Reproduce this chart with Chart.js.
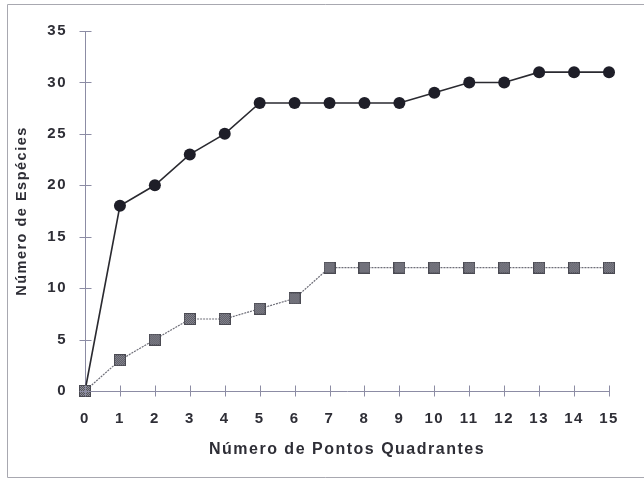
<!DOCTYPE html>
<html>
<head>
<meta charset="utf-8">
<script src="https://cdn.jsdelivr.net/npm/chart.js@4/dist/chart.umd.min.js"></script>
<style>
  html, body { margin: 0; padding: 0; background: #fff; }
  #wrap { width: 644px; height: 479px; position: relative; }
</style>
</head>
<body>
<div id="wrap"><canvas id="c" width="644" height="479"></canvas></div>
<script>
// Pontos quadrantes amostrados (eixo X)
const pontos = [0, 1, 2, 3, 4, 5, 6, 7, 8, 9, 10, 11, 12, 13, 14, 15];
// Número acumulado de espécies por série
const especiesA = [0, 18, 20, 23, 25, 28, 28, 28, 28, 28, 29, 30, 30, 31, 31, 31];
const especiesB = [0, 3, 5, 7, 7, 8, 9, 12, 12, 12, 12, 12, 12, 12, 12, 12];

const axisColor = '#8c8ca4';
const textColor = '#2e2e36';
const fontFamily = "'Liberation Sans', Arial, sans-serif";

// Square marker with a fine checkered texture
function makeSquare(size) {
  const c = document.createElement('canvas');
  c.width = size; c.height = size;
  const g = c.getContext('2d');
  g.fillStyle = '#55555e';
  g.fillRect(0, 0, size, size);
  g.fillStyle = '#8e8e98';
  for (let y = 0; y < size; y++) {
    for (let x = 0; x < size; x++) {
      if ((x + y) % 2 === 0) g.fillRect(x, y, 1, 1);
    }
  }
  g.strokeStyle = '#4a4a52';
  g.lineWidth = 1;
  g.strokeRect(0.5, 0.5, size - 1, size - 1);
  return c;
}
const squareImg = makeSquare(12);

// Frame and crossing tick marks
const decor = {
  id: 'decor',
  beforeDraw(chart) {
    chart.ctx.letterSpacing = '1.5px';
  },
  afterDraw(chart) {
    const ctx = chart.ctx;
    const xs = chart.scales.x, ys = chart.scales.y;
    ctx.save();
    ctx.letterSpacing = '0px';
    ctx.strokeStyle = axisColor;
    ctx.lineWidth = 1;
    ctx.beginPath();
    const ax = Math.round(xs.left) + 0.5;
    const ay = Math.round(ys.bottom) + 0.5;
    xs.ticks.forEach((t, i) => {
      const px = Math.round(xs.getPixelForTick(i)) + 0.5;
      ctx.moveTo(px, ay - 6); ctx.lineTo(px, ay + 5);
    });
    ys.ticks.forEach((t, i) => {
      const py = Math.round(ys.getPixelForTick(i)) + 0.5;
      ctx.moveTo(ax - 6, py); ctx.lineTo(ax + 6, py);
    });
    ctx.stroke();
    // outer frame (left, top, bottom)
    ctx.strokeStyle = '#a8a8b0';
    ctx.beginPath();
    ctx.moveTo(644, 4.5); ctx.lineTo(7.5, 4.5); ctx.lineTo(7.5, 477.5); ctx.lineTo(644, 477.5);
    ctx.stroke();
    ctx.restore();
  }
};

new Chart(document.getElementById('c'), {
  type: 'line',
  data: {
    datasets: [
      {
        label: 'A',
        order: 1,
        data: pontos.map((x, i) => ({ x, y: especiesA[i] })),
        borderColor: '#2a2a30',
        borderWidth: 1.6,
        pointStyle: 'circle',
        pointRadius: 6,
        pointBackgroundColor: '#1e1e28',
        pointBorderColor: '#1e1e28',
        pointBorderWidth: 0,
        tension: 0
      },
      {
        label: 'B',
        order: 0,
        data: pontos.map((x, i) => ({ x, y: especiesB[i] })),
        borderColor: '#6e6e78',
        borderWidth: 1.2,
        borderDash: [2, 1],
        pointStyle: squareImg,
        pointRadius: 6,
        tension: 0
      }
    ]
  },
  options: {
    responsive: false,
    animation: false,
    devicePixelRatio: 1,
    clip: false,
    layout: { padding: { left: 8, right: 35, top: 31, bottom: 4 } },
    plugins: { legend: { display: false }, tooltip: { enabled: false } },
    scales: {
      x: {
        type: 'linear',
        min: 0, max: 15,
        afterFit(s) { s.height = 479 - 391 - 4; },
        border: { display: true, color: axisColor, width: 1 },
        grid: { display: false, drawTicks: false },
        ticks: {
          stepSize: 1, padding: 19, color: textColor,
          font: { family: fontFamily, size: 15, weight: 'bold' }
        },
        title: {
          display: true, text: 'Número de Pontos Quadrantes', color: textColor,
          padding: { top: 0, bottom: 16 },
          font: { family: fontFamily, size: 16, weight: 'bold' }
        }
      },
      y: {
        min: 0, max: 35,
        afterFit(s) { s.width = 85 - 8; },
        border: { display: true, color: axisColor, width: 1 },
        grid: { display: false, drawTicks: false },
        ticks: {
          stepSize: 5, padding: 18, color: textColor,
          font: { family: fontFamily, size: 15, weight: 'bold' }
        },
        title: {
          display: true, text: 'Número de Espécies', color: textColor,
          padding: { top: 5, bottom: 0 },
          font: { family: fontFamily, size: 14.5, weight: 'bold' }
        }
      }
    }
  },
  plugins: [decor]
});
</script>
</body>
</html>
